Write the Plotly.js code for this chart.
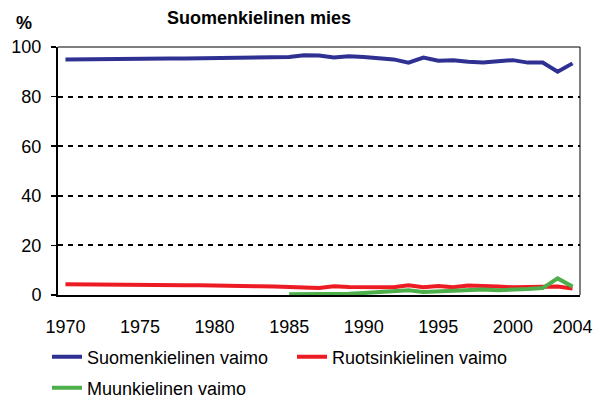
<!DOCTYPE html>
<html>
<head>
<meta charset="utf-8">
<script src="https://cdn.plot.ly/plotly-3.0.1.min.js"></script>
<style>html,body{margin:0;padding:0;background:#fff;}#chart{width:598px;height:403px;}</style>
</head>
<body>
<div id="chart"></div>
<script>
const years = [1970,1971,1972,1973,1974,1975,1976,1977,1978,1979,1980,1981,1982,1983,1984,1985,1986,1987,1988,1989,1990,1991,1992,1993,1994,1995,1996,1997,1998,1999,2000,2001,2002,2003,2004];
const suomi = [95.0,95.1,95.1,95.2,95.2,95.3,95.3,95.4,95.4,95.5,95.5,95.6,95.7,95.8,95.9,96.0,96.7,96.6,95.8,96.3,96.0,95.5,95.0,93.7,95.7,94.5,94.7,94.1,93.8,94.3,94.7,93.7,93.7,90.0,93.4];
const ruotsi = [4.3,4.2,4.1,4.0,3.9,3.8,3.8,3.9,3.9,3.9,3.9,3.7,3.6,3.5,3.4,3.4,3.0,2.8,3.5,3.2,3.1,3.4,3.1,3.9,3.1,3.6,3.1,3.8,3.4,3.4,3.1,3.2,3.4,3.4,2.6];
const muu = [null,null,null,null,null,null,null,null,null,null,null,null,null,null,null,0.3,0.3,0.3,0.4,0.5,0.8,1.2,1.7,1.9,1.2,1.5,1.6,1.7,2.2,1.9,2.0,2.4,2.8,6.7,3.4];
const seriesNames = ['Suomenkielinen vaimo','Ruotsinkielinen vaimo','Muunkielinen vaimo'];
const xTicks = [1970,1975,1980,1985,1990,1995,2000,2004];
const yTicks = [0,20,40,60,80,100];
const chartTitle = 'Suomenkielinen mies';
const yUnit = '%';

const colors = ['#2E3192','#ED1C24','#4DAF4A'];
const font = 'Arial, "Liberation Sans", sans-serif';
const legends = ['legend','legend','legend2'];

const traces = [suomi, ruotsi, muu].map((ys, i) => ({
  x: years, y: ys, type: 'scatter', mode: 'lines', name: seriesNames[i], legend: legends[i],
  line: {color: colors[i], width: 4}, connectgaps: false, hoverinfo: 'skip'
}));

const W = 598, H = 403, L = 58, R = 18, T = 47, B = 108;
const pw = W - L - R, ph = H - T - B;
const xRange = [years[0] - 0.5, years[years.length - 1] + 0.5];
const yRange = [0, 100];

// yearly category-boundary tick marks below the x axis (Excel style): vertical-line markers, not clipped
const boundaries = years.map(y => y + 0.5);
const tickY = -(3.5 / ph) * (yRange[1] - yRange[0]);
traces.push({
  x: boundaries, y: boundaries.map(() => tickY), type: 'scatter', mode: 'markers', cliponaxis: false,
  marker: {symbol: 'line-ns-open', size: 7, color: '#000', line: {color: '#000', width: 1.2}},
  showlegend: false, hoverinfo: 'skip'
});

const legCommon = {
  orientation: 'h', xanchor: 'left', yanchor: 'middle', xref: 'container', yref: 'container',
  font: {family: font, size: 18, color: '#000'}, entrywidth: 200, entrywidthmode: 'pixels',
  bgcolor: 'rgba(0,0,0,0)', traceorder: 'normal', itemwidth: 30
};

const layout = {
  width: W, height: H,
  margin: {l: L, r: R, t: T, b: B, pad: 0, autoexpand: false},
  paper_bgcolor: '#fff', plot_bgcolor: '#fff',
  font: {family: font, size: 18, color: '#000'},
  showlegend: true,
  legend: Object.assign({}, legCommon, {x: 47 / W, y: 1 - 357 / H}),
  legend2: Object.assign({}, legCommon, {x: 47 / W, y: 1 - 388 / H}),
  xaxis: {
    range: xRange, tickmode: 'array', tickvals: xTicks, ticktext: xTicks.map(String),
    ticks: '', showgrid: false, zeroline: false, showline: true, linecolor: '#000', linewidth: 2,
    ticklabelstandoff: 14,
    tickfont: {family: font, size: 18, color: '#000'}, fixedrange: true
  },
  yaxis: {
    range: yRange, tickmode: 'array', tickvals: yTicks, ticks: 'outside', ticklen: 5, tickcolor: '#000', tickwidth: 1.5,
    showgrid: true, gridcolor: '#000', gridwidth: 2, griddash: '5px,5px', zeroline: false,
    showline: true, linecolor: '#000', linewidth: 2, ticklabelstandoff: 6,
    tickfont: {family: font, size: 18, color: '#000'}, fixedrange: true
  },
  shapes: [
    {type: 'line', xref: 'paper', yref: 'paper', x0: 1, x1: 1, y0: 0, y1: 1, line: {color: '#000', width: 1}},
    {type: 'line', xref: 'paper', yref: 'paper', x0: 0, x1: 1, y0: 1, y1: 1, line: {color: '#000', width: 1}}
  ],
  annotations: [
    {text: '<b>' + chartTitle + '</b>', xref: 'paper', yref: 'paper', x: (165 - L) / pw, y: 1 + (T - 18) / ph,
     xanchor: 'left', yanchor: 'middle', showarrow: false, font: {family: font, size: 18, color: '#000'}},
    {text: '<b>' + yUnit + '</b>', xref: 'paper', yref: 'paper', x: (24 - L) / pw, y: 1 + (T - 23) / ph,
     xanchor: 'center', yanchor: 'middle', showarrow: false, font: {family: font, size: 18, color: '#000'}}
  ]
};

Plotly.newPlot('chart', traces, layout, {displayModeBar: false, staticPlot: true});
</script>
</body>
</html>
